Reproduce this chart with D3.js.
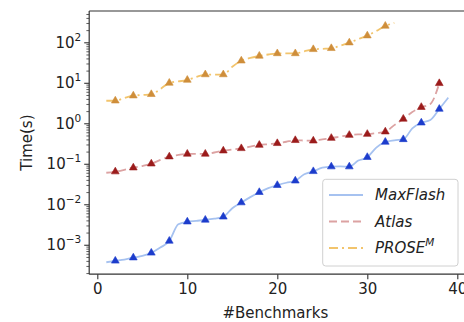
<!DOCTYPE html>
<html><head><meta charset="utf-8">
<script src="https://cdn.jsdelivr.net/npm/d3@7"></script>
<style>
html,body{margin:0;padding:0;background:#fff;}
svg{display:block;font-family:"DejaVu Sans",sans-serif;}
</style></head>
<body>
<svg id="chart" width="464" height="322"></svg>
<script>
// ---- data ----
const maxflash = [3.7e-4,4.0e-4,4.3e-4,4.8e-4,5.3e-4,6.3e-4,8.5e-4,1.24e-3,3.2e-3,3.7e-3,
  3.9e-3,4.1e-3,4.4e-3,4.9e-3,8.0e-3,0.011,0.015,0.0198,0.025,0.0295,
  0.034,0.038,0.055,0.065,0.080,0.085,0.086,0.085,0.12,0.145,
  0.25,0.345,0.38,0.40,0.75,1.03,1.2,2.25,4.3];
const atlas = [0.060,0.064,0.071,0.080,0.088,0.100,0.125,0.150,0.165,0.175,
  0.175,0.175,0.19,0.21,0.225,0.24,0.265,0.29,0.305,0.32,
  0.35,0.38,0.375,0.37,0.40,0.43,0.47,0.51,0.53,0.54,
  0.57,0.62,0.9,1.28,1.9,2.5,3.0,9.7];
const prose = [3.6,3.6,4.2,4.8,5.0,5.2,7.0,9.9,10.8,11.7,
  14,16,16,16,25,35,41,46,50,53,
  53,53,60,67,69,71,82,98,120,146,
  190,253,300];
const seriesNames = ["MaxFlash","Atlas","PROSE"];
const xTicks = [0,10,20,30,40];
const yTickExps = [-3,-2,-1,0,1,2];
const xLabel = "#Benchmarks";
const yLabel = "Time(s)";

// ---- layout ----
const svg = d3.select("#chart");
const L = 89.2, R = 465.4, T = 11, B = 274.2;
const x = d3.scaleLinear().domain([-0.9, 40.9]).range([L, R]);
const y = d3.scaleLog().domain([10**-3.727, 10**2.773]).range([B, T]);

const toPts = arr => arr.map((v,i)=>({x:i+1, v}));
const series = [
  {name:seriesNames[0], data:toPts(maxflash), line:"#a6c2f0", mark:"#1c3ccc", dash:null},
  {name:seriesNames[1], data:toPts(atlas), line:"#dca2a2", mark:"#9b1b1b", dash:"8,4"},
  {name:seriesNames[2], data:toPts(prose), line:"#f2c46c", mark:"#cf8e3a", dash:"9,4,2,4"}
];

const textColor = "#222";
const fs = 15;

// clip
svg.append("defs").append("clipPath").attr("id","clip")
  .append("rect").attr("x",L).attr("y",T).attr("width",R-L).attr("height",B-T);

const g = svg.append("g").attr("clip-path","url(#clip)");
const lineGen = d3.line().x(d=>x(d.x)).y(d=>y(d.v)).curve(d3.curveMonotoneX);
const tri = d3.symbol().type(d3.symbolTriangle).size(26);

series.forEach(s=>{
  g.append("path").datum(s.data).attr("d",lineGen)
    .attr("fill","none").attr("stroke",s.line).attr("stroke-width",1.8)
    .attr("stroke-dasharray",s.dash);
});
series.forEach(s=>{
  g.selectAll(null).data(s.data.filter(d=>d.x%2===0)).enter().append("path")
    .attr("d",tri).attr("transform",d=>`translate(${x(d.x)},${y(d.v)})`)
    .attr("fill",s.mark).attr("stroke",s.mark).attr("stroke-width",0.6);
});

// spines
svg.append("line").attr("x1",L).attr("x2",L).attr("y1",T).attr("y2",B).attr("stroke","#333").attr("stroke-width",1.2);
svg.append("line").attr("x1",L).attr("x2",R).attr("y1",B).attr("y2",B).attr("stroke","#333").attr("stroke-width",1.2);
svg.append("line").attr("x1",L).attr("x2",R).attr("y1",T).attr("y2",T).attr("stroke","#333").attr("stroke-width",1.2);

// x axis
const xa = svg.append("g").attr("transform",`translate(0,${B})`)
  .call(d3.axisBottom(x).tickValues(xTicks).tickSize(5).tickPadding(4).tickFormat(d3.format("d")));
xa.select(".domain").remove();
xa.selectAll(".tick line").attr("stroke","#333").attr("stroke-width",1.1);
xa.selectAll(".tick text").attr("font-size",fs).attr("fill",textColor).attr("font-family","DejaVu Sans");

// y axis minor ticks
const minor = [];
for (let e=-4;e<=2;e++) for (let m=2;m<=9;m++){ const v=m*10**e; if (v>=y.domain()[0] && v<=y.domain()[1]) minor.push(v); }
const ym = svg.append("g").attr("transform",`translate(${L},0)`)
  .call(d3.axisLeft(y).tickValues(minor).tickSize(2.8).tickFormat(""));
ym.select(".domain").remove();
ym.selectAll(".tick line").attr("stroke","#333").attr("stroke-width",0.8);

// y axis major ticks
const ya = svg.append("g").attr("transform",`translate(${L},0)`)
  .call(d3.axisLeft(y).tickValues(yTickExps.map(e=>10**e)).tickSize(5).tickFormat(""));
ya.select(".domain").remove();
ya.selectAll(".tick line").attr("stroke","#333").attr("stroke-width",1.1);
ya.selectAll(".tick").each(function(d,i){
  const t = d3.select(this).append("text")
    .attr("x",-8).attr("y",5.2).attr("text-anchor","end")
    .attr("font-size",fs).attr("fill",textColor).attr("font-family","DejaVu Sans");
  t.append("tspan").text("10");
  const e = yTickExps[i];
  t.append("tspan").attr("font-size",fs*0.7).attr("dy",-7).text(e<0 ? "\u2212"+(-e) : String(e));
});

// axis labels
svg.append("text").attr("x",(L+R)/2 - 2).attr("y",318).attr("text-anchor","middle")
  .attr("font-size",fs).attr("fill",textColor).text(xLabel);
svg.append("text").attr("transform",`translate(32,${(T+B)/2})rotate(-90)`).attr("text-anchor","middle")
  .attr("font-size",fs).attr("fill",textColor).text(yLabel);

// legend
const lg = svg.append("g");
lg.append("rect").attr("x",322.7).attr("y",179.3).attr("width",135.3).attr("height",86.7)
  .attr("rx",3).attr("fill","rgba(255,255,255,0.85)").attr("stroke","#d0d0d0").attr("stroke-width",1);
series.forEach((s,i)=>{
  const cy = 195 + i*26.5;
  lg.append("line").attr("x1",329).attr("x2",363).attr("y1",cy).attr("y2",cy)
    .attr("stroke",s.line).attr("stroke-width",1.8).attr("stroke-dasharray",s.dash);
  const t = lg.append("text").attr("x",375).attr("y",cy+5.3)
    .attr("font-size",fs).attr("font-style","italic").attr("fill",textColor);
  t.append("tspan").text(s.name);
  if (i===2) t.append("tspan").attr("font-size",fs*0.7).attr("dy",-7).text("M");
});
</script>
</body></html>
